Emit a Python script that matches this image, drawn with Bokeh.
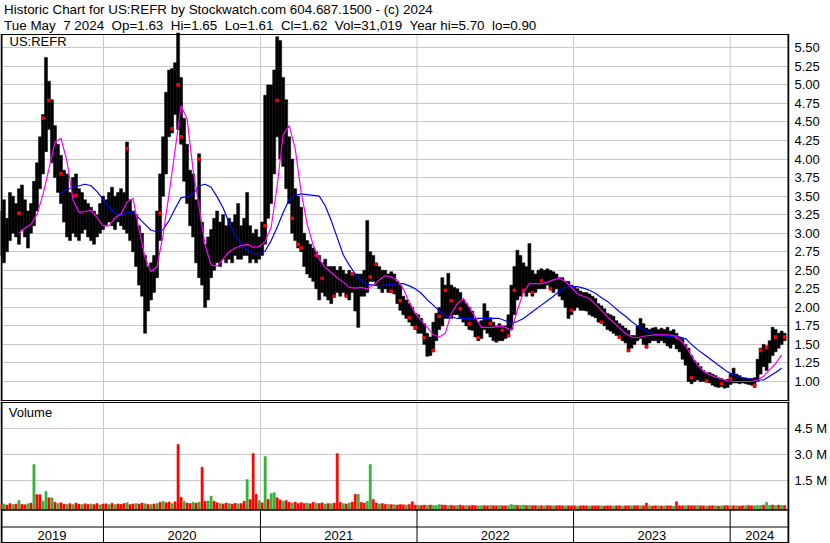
import numpy as np
import pandas as pd
from bokeh.plotting import figure
from bokeh.layouts import column
from bokeh.models import Range1d, FixedTicker, Label, Span, PrintfTickFormatter, ColumnDataSource
from bokeh.core.properties import value
from bokeh.embed import file_html
from bokeh.resources import INLINE

# ---------------- data ----------------
header1 = "Historic Chart for US:REFR by Stockwatch.com 604.687.1500 - (c) 2024"
header2 = "Tue May  7 2024  Op=1.63  Hi=1.65  Lo=1.61  Cl=1.62  Vol=31,019  Year hi=5.70  lo=0.90"
symbol = "US:REFR"
volume_title = "Volume"
year_labels = ["2019", "2020", "2021", "2022", "2023", "2024"]
first_week = "2019-05-07"
view_start = "2019-05-06"

price_ticks = [1.00, 1.25, 1.50, 1.75, 2.00, 2.25, 2.50, 2.75, 3.00, 3.25,
               3.50, 3.75, 4.00, 4.25, 4.50, 4.75, 5.00, 5.25, 5.50]
volume_ticks = [1.5, 3.0, 4.5]  # millions

# weekly high / low
price_high = [
    3.30, 3.45, 3.20, 3.55, 3.50, 3.40, 3.60, 3.65, 3.45, 3.30,
    3.40, 3.70, 3.95, 4.30, 4.60, 5.37, 5.05, 4.80, 4.45, 4.20,
    4.05, 3.85, 3.80, 3.55, 3.75, 3.80, 3.60, 3.55, 3.45, 3.40,
    3.35, 3.30, 3.25, 3.40, 3.50, 3.45, 3.55, 3.62, 3.50, 3.55,
    3.60, 3.55, 4.23, 3.45, 3.30, 3.25, 3.10, 3.00, 2.70, 2.55,
    2.60, 2.70, 3.30, 3.80, 4.30, 4.90, 5.20, 5.22, 5.30, 5.70,
    5.10, 4.55, 4.20, 3.85, 3.80, 3.45, 4.07, 3.15, 2.85, 2.95,
    3.05, 3.20, 3.30, 3.15, 3.25, 3.10, 3.20, 3.15, 3.25, 3.40,
    3.10, 3.20, 3.55, 3.10, 3.00, 3.05, 2.95, 3.15, 4.86, 5.00,
    5.00, 5.20, 5.65, 5.60, 5.10, 4.80, 4.30, 4.00, 3.60, 3.50,
    3.35, 3.00, 2.90, 2.85, 2.80, 2.75, 2.70, 2.60, 2.65, 2.55,
    2.55, 2.55, 2.50, 2.55, 2.50, 2.45, 2.50, 2.45, 2.45, 2.45,
    2.45, 2.50, 3.17, 2.75, 2.70, 2.60, 2.55, 2.50, 2.50, 2.45,
    2.48, 2.45, 2.35, 2.30, 2.15, 2.10, 2.05, 2.00, 1.92, 1.90,
    1.85, 1.78, 1.65, 1.60, 1.80, 1.92, 2.00, 2.40, 2.30, 2.46,
    2.30, 2.27, 2.25, 2.20, 2.10, 2.05, 2.00, 1.95, 1.85, 1.80,
    1.82, 2.05, 1.95, 1.86, 1.80, 1.75, 1.78, 1.75, 1.75, 1.90,
    2.30, 2.55, 2.77, 2.70, 2.60, 2.55, 2.86, 2.50, 2.45, 2.50,
    2.52, 2.50, 2.52, 2.50, 2.48, 2.45, 2.40, 2.40, 2.35, 2.35,
    2.30, 2.28, 2.25, 2.22, 2.20, 2.20, 2.18, 2.15, 2.12, 2.05,
    2.02, 1.98, 1.92, 1.90, 1.88, 1.82, 1.78, 1.75, 1.72, 1.69,
    1.62, 1.62, 1.75, 1.85, 1.78, 1.72, 1.70, 1.72, 1.73, 1.70,
    1.72, 1.70, 1.73, 1.68, 1.70, 1.65, 1.60, 1.58, 1.50, 1.45,
    1.35, 1.28, 1.25, 1.20, 1.15, 1.12, 1.12, 1.10, 1.08, 1.05,
    1.04, 1.02, 1.03, 1.10, 1.18, 1.10, 1.08, 1.05, 1.05, 1.04,
    1.04, 1.05, 1.30, 1.45, 1.50, 1.48, 1.55, 1.73, 1.70, 1.65, 1.68, 1.65,
]
price_low = [
    2.70, 2.60, 2.75, 2.90, 3.00, 2.95, 2.85, 3.05, 2.95, 2.80,
    3.00, 3.10, 3.30, 3.60, 3.80, 4.10, 4.40, 3.95, 3.75, 3.55,
    3.40, 3.15, 2.95, 2.90, 3.00, 2.95, 2.90, 3.00, 3.05, 2.95,
    2.90, 2.85, 2.95, 3.00, 3.05, 3.10, 3.15, 3.10, 3.05, 3.15,
    3.10, 3.05, 3.00, 2.90, 2.75, 2.55, 2.30, 2.15, 1.65, 1.95,
    2.10, 2.20, 2.40, 2.90, 3.50, 3.80, 4.30, 4.35, 4.60, 4.40,
    4.20, 3.70, 3.40, 3.10, 2.95, 2.60, 2.40, 2.30, 2.00, 2.10,
    2.40, 2.50, 2.60, 2.55, 2.65, 2.60, 2.65, 2.60, 2.70, 2.65,
    2.65, 2.70, 2.70, 2.60, 2.65, 2.60, 2.65, 2.70, 2.85, 3.20,
    3.40, 3.80, 4.30, 4.00, 3.90, 3.60, 3.40, 3.00, 2.90, 2.80,
    2.75, 2.55, 2.45, 2.40, 2.35, 2.25, 2.10, 2.20, 2.15, 2.10,
    2.05, 2.15, 2.20, 2.15, 2.20, 2.15, 2.10, 2.20, 1.95, 1.73,
    2.15, 2.15, 2.20, 2.35, 2.35, 2.30, 2.25, 2.20, 2.25, 2.20,
    2.20, 2.18, 2.05, 1.96, 1.90, 1.85, 1.80, 1.75, 1.70, 1.65,
    1.65, 1.50, 1.34, 1.35, 1.40, 1.55, 1.70, 1.75, 1.85, 1.85,
    1.85, 1.90, 1.90, 1.86, 1.80, 1.75, 1.70, 1.69, 1.60, 1.55,
    1.58, 1.70, 1.65, 1.60, 1.55, 1.53, 1.55, 1.55, 1.58, 1.60,
    1.70, 1.90, 2.10, 2.15, 2.20, 2.15, 2.20, 2.15, 2.20, 2.25,
    2.25, 2.25, 2.30, 2.25, 2.20, 2.25, 2.15, 2.10, 2.00, 1.85,
    1.90, 1.96, 2.00, 1.96, 1.96, 1.95, 1.90, 1.88, 1.86, 1.80,
    1.78, 1.75, 1.70, 1.68, 1.65, 1.62, 1.58, 1.55, 1.52, 1.40,
    1.45, 1.50, 1.55, 1.58, 1.50, 1.45, 1.52, 1.55, 1.55, 1.52,
    1.55, 1.52, 1.48, 1.45, 1.50, 1.44, 1.40, 1.30, 1.22, 1.00,
    0.97, 1.00, 1.02, 1.00, 1.00, 0.99, 0.98, 0.95, 0.93, 0.92,
    0.93, 0.91, 0.92, 0.96, 0.98, 0.98, 0.97, 0.98, 0.97, 0.96,
    0.95, 0.92, 1.00, 1.10, 1.20, 1.15, 1.25, 1.35, 1.40, 1.45, 1.50, 1.55,
]

# red close marks: week number and price
red_week = [6, 14, 16, 20, 25, 42, 53, 57, 59, 60, 66, 88, 92, 97, 99, 100, 105,
            107, 111, 115, 117, 123, 125, 130, 133, 136, 138, 141, 144, 146, 148,
            150, 153, 156, 159, 163, 167, 169, 171, 174, 177, 180, 183, 190, 200,
            206, 209, 215, 225, 230, 235, 240, 243, 251, 253, 255, 258, 261]
red_price = [3.27, 4.55, 4.79, 3.80, 3.51, 4.14, 3.27, 4.41, 5.00, 4.30, 4.00, 3.10,
             4.79, 3.20, 2.85, 2.80, 2.70, 2.39, 2.15, 2.15, 2.45, 2.41, 2.58, 2.22,
             2.09, 1.86, 1.73, 1.59, 1.42, 1.88, 2.23, 2.09, 1.98, 1.78, 1.59, 1.78,
             1.69, 1.62, 2.23, 2.23, 2.20, 2.36, 2.25, 1.96, 1.80, 1.60, 1.42, 1.47,
             1.60, 1.05, 1.01, 0.97, 1.04, 0.95, 1.42, 1.46, 1.60, 1.60]

nan = float("nan")
# moving averages read every second week
ma_fast = [
    nan, nan, nan, 3.00, 3.07, 3.12, 3.25, 3.52, 3.87, 4.23,
    4.28, 3.97, 3.45, 3.28, 3.29, 3.31, 3.21, 3.10, 3.10, 3.21,
    3.26, 3.42, 3.47, 3.05, 2.67, 2.48, 2.55, 2.98, 3.53, 4.12,
    4.72, 4.54, 3.85, 3.35, 2.84, 2.57, 2.56, 2.65, 2.75, 2.80,
    2.83, 2.85, 2.81, 2.82, 2.89, 3.08, 3.64, 4.33, 4.45, 4.14,
    3.55, 3.12, 2.84, 2.65, 2.54, 2.47, 2.40, 2.34, 2.27, 2.26,
    2.27, 2.25, 2.30, 2.37, 2.43, 2.41, 2.37, 2.25, 2.07, 1.92,
    1.82, 1.73, 1.63, 1.60, 1.65, 1.92, 2.05, 2.12, 2.00, 1.87,
    1.73, 1.73, 1.73, 1.75, 1.73, 1.69, 1.96, 2.20, 2.32, 2.32,
    2.32, 2.34, 2.37, 2.39, 2.35, 2.27, 2.18, 2.15, 2.12, 2.04,
    1.96, 1.87, 1.80, 1.72, 1.65, 1.60, 1.59, 1.61, 1.62, 1.63,
    1.63, 1.63, 1.62, 1.57, 1.48, 1.35, 1.22, 1.14, 1.09, 1.06,
    1.03, 1.01, 1.00, 1.00, 1.00, 1.00, 1.02, 1.07, 1.16, 1.24, 1.36,
]
ma_slow = [
    nan, nan, nan, nan, nan, nan, nan, nan, nan, nan,
    3.54, 3.59, 3.62, 3.64, 3.66, 3.64, 3.56, 3.46, 3.35, 3.27,
    3.25, 3.27, 3.29, 3.20, 3.12, 3.04, 3.02, 3.05, 3.17, 3.33,
    3.48, 3.49, 3.53, 3.64, 3.66, 3.62, 3.49, 3.34, 3.14, 2.98,
    2.85, 2.77, 2.73, 2.72, 2.76, 2.90, 3.08, 3.28, 3.45, 3.51,
    3.53, 3.52, 3.51, 3.50, 3.37, 3.17, 2.94, 2.71, 2.57, 2.45,
    2.36, 2.31, 2.30, 2.29, 2.30, 2.31, 2.32, 2.32, 2.29, 2.25,
    2.19, 2.10, 2.03, 1.95, 1.89, 1.87, 1.85, 1.85, 1.85, 1.85,
    1.85, 1.85, 1.85, 1.85, 1.82, 1.78, 1.81, 1.85, 1.91, 1.97,
    2.03, 2.09, 2.15, 2.22, 2.27, 2.28, 2.28, 2.26, 2.23, 2.19,
    2.13, 2.08, 2.01, 1.94, 1.88, 1.81, 1.75, 1.70, 1.66, 1.64,
    1.62, 1.61, 1.61, 1.60, 1.58, 1.50, 1.43, 1.37, 1.31, 1.25,
    1.19, 1.13, 1.09, 1.06, 1.04, 1.03, 1.02, 1.02, 1.07, 1.12, 1.18,
]

# weekly volume (thousands of shares) and up/down flag per week
volume_k = [
    120, 150, 90, 180, 110, 140, 350, 130, 100, 160,
    200, 2420, 690, 680, 300, 870, 500, 500, 250, 180,
    220, 150, 130, 170, 120, 200, 140, 110, 160, 130,
    150, 120, 180, 100, 140, 160, 120, 190, 110, 150,
    130, 170, 220, 120, 150, 180, 140, 200, 160, 130,
    120, 150, 180, 250, 300, 220, 260, 180, 280, 3580,
    530, 300, 200, 180, 250, 200, 260, 2270, 300, 320,
    600, 300, 220, 180, 150, 200, 170, 140, 190, 160,
    180, 300, 1560, 400, 3060, 700, 350, 220, 2880, 400,
    750, 800, 500, 380, 300, 350, 250, 200, 260, 180,
    220, 180, 200, 160, 250, 190, 170, 210, 150, 180,
    160, 200, 3060, 240, 180, 150, 200, 260, 700, 700,
    250, 200, 300, 2420, 400, 200, 150, 170, 130, 120,
    110, 100, 90, 120, 100, 80, 110, 280, 90, 70,
    60, 80, 70, 90, 60, 70, 110, 90, 80, 60,
    70, 50, 60, 80, 50, 60, 40, 70, 60, 50,
    50, 60, 40, 70, 50, 40, 60, 50, 40, 60,
    110, 80, 70, 60, 80, 60, 70, 50, 60, 50,
    50, 40, 60, 50, 40, 50, 60, 40, 50, 40,
    40, 50, 30, 40, 50, 40, 30, 40, 50, 40,
    40, 30, 50, 40, 30, 40, 50, 30, 40, 50,
    40, 50, 60, 40, 50, 200, 40, 30, 50, 40,
    30, 40, 50, 40, 30, 280, 40, 50, 40, 60,
    50, 40, 60, 50, 40, 30, 40, 50, 40, 30,
    40, 50, 60, 40, 50, 40, 30, 50, 40, 60,
    50, 40, 70, 60, 80, 240, 70, 90, 60, 80, 70, 60,
]
volume_dir = (
    "rgrrgrgrrg" "rgrrggrgrg" "rrgrgrrgrr" "grrgrrgrgr" "rrgrrgrrgr"
    "grgrgrrgrr" "rgrrgrgrrg" "grrgrrgrrg" "rrgrrrgrgr" "ggrrgrrgrr"
    "rrgrrgrrgr" "grrrgrgrrg" "rrggrrgrrg" "rgrrrgrrrg" "rrgrgggrrg"
    "rrgrrgrrrg" "grrgrrgrrg" "ggrggrgrrg" "rgrrgrrrgr" "rrgrrrgrrr"
    "grrrgrrgrr" "grrgrrgrrg" "rgrrgrrrgr" "rrgrrgrrgr" "grrgrgrrgr"
    "rgggrggrgrgr"
)

n = len(price_high)
assert n == len(price_low) == len(volume_k) == len(volume_dir)
assert len(red_week) == len(red_price)

weeks = pd.date_range(first_week, periods=n, freq="7D")
ma_dates = weeks[::2]
assert len(ma_dates) == len(ma_fast) == len(ma_slow)

# ---------------- geometry (page pixels) ----------------
FONT = "Liberation Sans"
W, H = 830, 543
FRAME_W = 790            # plot frames span x 0..790, axis labels to the right
RB = W - FRAME_W
P1_H = 401               # header + price panel
P2_H = H - P1_H          # volume panel + date strip
GRID = "#c8c8c8"
DAY_MS = 24 * 3600 * 1000
WEEK_MS = 7 * DAY_MS
PX_PER_DAY = 0.4295
PRICE_PX = 74.15         # pixels per 1.00 of price
PRICE_1_Y = 381          # page y of 1.00
VOL_PX = 26 / 1.5        # pixels per million shares
VOL_0_Y = 506            # page y of zero volume


def ms(d):
    return pd.Timestamp(d).value / 1e6


x0 = ms(view_start)


def px_to_date(px):
    return x0 + px / PX_PER_DAY * DAY_MS


def price_at(py):
    return 1 + (PRICE_1_Y - py) / PRICE_PX


def vol_at(py):
    return (VOL_0_Y - py) / VOL_PX


x1 = px_to_date(FRAME_W)
xr = Range1d(x0, x1)
left_edge, right_edge = px_to_date(1), px_to_date(FRAME_W - 1)
year_bounds = [ms(f"{y}-01-01") for y in year_labels[1:]]
edges = [x0] + year_bounds + [x1]
year_mid = [(a + b) / 2 for a, b in zip(edges[:-1], edges[1:])]
nb = len(year_bounds)


def make_fig(height, yr):
    p = figure(width=W, height=height, x_range=xr, y_range=yr,
               x_axis_type="datetime", x_axis_location=None,
               y_axis_location="right",
               toolbar_location=None, output_backend="svg",
               min_border_left=0, min_border_right=RB,
               min_border_top=0, min_border_bottom=0)
    p.outline_line_color = None
    p.background_fill_color = "white"
    p.border_fill_color = "white"
    p.xgrid.grid_line_color = None
    p.ygrid.grid_line_color = GRID
    return p


def style_axis(p, ticks, fmt):
    ax = p.yaxis[0]
    ax.ticker = FixedTicker(ticks=ticks)
    ax.formatter = PrintfTickFormatter(format=fmt)
    ax.axis_line_color = None
    ax.major_tick_line_color = None
    ax.minor_tick_line_color = None
    ax.major_tick_out = 0
    ax.major_tick_in = 0
    ax.major_label_standoff = 5
    ax.major_label_text_font = FONT
    ax.major_label_text_font_size = "13px"
    ax.major_label_text_color = "black"


def hline(p, y, width=1):
    p.add_layout(Span(location=y, dimension="width", line_color="black", line_width=width))


def text_label(p, txt, x, y, size="13px"):
    # y is the vertical centre of the text, measured up from the frame bottom
    p.add_layout(Label(x=x, y=y, x_units="screen", y_units="screen", text=txt,
                       text_font=FONT, text_font_size=size, text_color="black",
                       text_baseline="middle"))


# ---------------- header + price panel ----------------
p_top, p_bot = price_at(0), price_at(P1_H)
frame_top = price_at(34)
p1 = make_fig(P1_H, Range1d(p_bot, p_top))
style_axis(p1, price_ticks, "%.2f")
hline(p1, frame_top)
hline(p1, price_at(400))
p1.segment(x0=year_bounds, x1=year_bounds, y0=[p_bot] * nb, y1=[frame_top] * nb,
           line_color=GRID, line_width=1)
p1.segment(x0=[left_edge, right_edge], x1=[left_edge, right_edge], y0=[p_bot, p_bot],
           y1=[frame_top, frame_top], line_color="black", line_width=2)

src = ColumnDataSource(dict(x=weeks, hi=price_high, lo=price_low))
p1.vbar(x="x", top="hi", bottom="lo", width=WEEK_MS * 1.0, source=src,
        fill_color="black", line_color="black", line_width=0.5)
p1.scatter([weeks[i] for i in red_week], red_price, marker="square", size=2.6,
           fill_color="#ff0000", line_color="#ff0000")
p1.line(ma_dates, ma_slow, line_color="#0000ff", line_width=1.2)
p1.line(ma_dates, ma_fast, line_color="#ff00ff", line_width=1.2)

text_label(p1, header1, 3.6, P1_H - 9.0, "13.4px")
text_label(p1, header2.replace("  ", "\u00a0 "), 3.6, P1_H - 24.7, "13.4px")
text_label(p1, symbol, 9.0, P1_H - 41.2)

# ---------------- volume panel + date strip ----------------
vol_m = [v / 1000 for v in volume_k]
v_top, v_bot = vol_at(P1_H), vol_at(H)
vbase = vol_at(509)
p2 = make_fig(P2_H, Range1d(v_bot, v_top))
style_axis(p2, volume_ticks, "%.1f M")
hline(p2, vol_at(402))
hline(p2, vol_at(509.5), width=1.5)
hline(p2, vol_at(526.5))
hline(p2, vol_at(542))
# year dividers: grey inside the volume panel, black in the date strip
p2.segment(x0=year_bounds, x1=year_bounds, y0=[vbase] * nb, y1=[vol_at(402)] * nb,
           line_color=GRID, line_width=1)
p2.segment(x0=year_bounds, x1=year_bounds, y0=[v_bot] * nb, y1=[vbase] * nb,
           line_color="black", line_width=1)
p2.segment(x0=[left_edge, right_edge], x1=[left_edge, right_edge], y0=[v_bot, v_bot],
           y1=[v_top, v_top], line_color="black", line_width=2)

vcol = ["#33b233" if c == "g" else "#ff0000" for c in volume_dir]
vsrc = ColumnDataSource(dict(x=weeks, v=vol_m, c=vcol))
p2.vbar(x="x", top="v", bottom=vbase, width=WEEK_MS * 0.75, source=vsrc,
        fill_color="c", line_color="c", line_width=0.5)
text_label(p2, volume_title, 8.3, H - 412.4)
p2.text(x=year_mid, y=[vol_at(535.0)] * len(year_mid), text=year_labels,
        text_font=value(FONT), text_font_size="13px", text_color="black",
        text_align="center", text_baseline="middle")

layout = column(p1, p2, spacing=0)
open("out.html", "w").write(file_html(layout, INLINE))
